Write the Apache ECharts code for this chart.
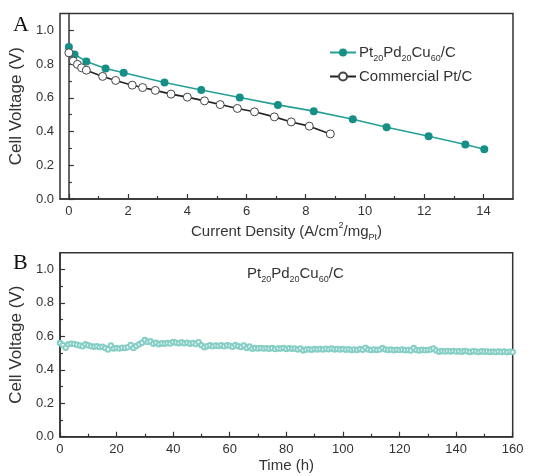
<!DOCTYPE html>
<html>
<head>
<meta charset="utf-8">
<script src="https://cdn.jsdelivr.net/npm/echarts@6/dist/echarts.min.js"></script>
<style>
html, body { margin: 0; padding: 0; background: #fff; }
#chart { width: 541px; height: 476px; }
</style>
</head>
<body>
<div id="chart"></div>
<script>
// polarization curves (panel A)
var alloyJ = [0, 0.19, 0.59, 1.24, 1.85, 3.23, 4.47, 5.77, 7.06, 8.27, 9.59, 10.73, 12.15, 13.39, 14.03];
var alloyV = [0.901, 0.857, 0.816, 0.774, 0.749, 0.691, 0.646, 0.602, 0.558, 0.521, 0.473, 0.426, 0.372, 0.323, 0.295];
var ptcJ = [0, 0.15, 0.29, 0.43, 0.59, 1.14, 1.58, 2.14, 2.49, 2.92, 3.45, 4.00, 4.58, 5.11, 5.69, 6.27, 6.94, 7.51, 8.12, 8.83];
var ptcV = [0.867, 0.818, 0.798, 0.778, 0.764, 0.727, 0.703, 0.675, 0.661, 0.644, 0.622, 0.604, 0.582, 0.560, 0.537, 0.517, 0.487, 0.457, 0.432, 0.386];

// stability test (panel B)
var stabTime = [
  0, 1, 2, 3, 4, 5, 6, 7, 8, 9,
  10, 11, 12, 13, 14, 15, 16, 17, 18, 19,
  20, 21, 22, 23, 24, 25, 26, 27, 28, 29,
  30, 31, 32, 33, 34, 35, 36, 37, 38, 39,
  40, 41, 42, 43, 44, 45, 46, 47, 48, 49,
  50, 51, 52, 53, 54, 55, 56, 57, 58, 59,
  60, 61, 62, 63, 64, 65, 66, 67, 68, 69,
  70, 71, 72, 73, 74, 75, 76, 77, 78, 79,
  80, 81, 82, 83, 84, 85, 86, 87, 88, 89,
  90, 91, 92, 93, 94, 95, 96, 97, 98, 99,
  100, 101, 102, 103, 104, 105, 106, 107, 108, 109,
  110, 111, 112, 113, 114, 115, 116, 117, 118, 119,
  120, 121, 122, 123, 124, 125, 126, 127, 128, 129,
  130, 131, 132, 133, 134, 135, 136, 137, 138, 139,
  140, 141, 142, 143, 144, 145, 146, 147, 148, 149,
  150, 151, 152, 153, 154, 155, 156, 157, 158, 159,
  160
];
var stabVolt = [
  0.560, 0.548, 0.532, 0.552, 0.556, 0.554, 0.550, 0.545, 0.541, 0.552,
  0.546, 0.540, 0.538, 0.541, 0.536, 0.538, 0.530, 0.522, 0.545, 0.528,
  0.530, 0.527, 0.532, 0.531, 0.535, 0.548, 0.530, 0.542, 0.552, 0.562,
  0.578, 0.566, 0.570, 0.556, 0.561, 0.553, 0.558, 0.556, 0.560, 0.557,
  0.566, 0.562, 0.559, 0.564, 0.558, 0.561, 0.556, 0.560, 0.554, 0.565,
  0.546, 0.535, 0.541, 0.547, 0.540, 0.545, 0.542, 0.547, 0.540, 0.546,
  0.543, 0.538, 0.548, 0.541, 0.536, 0.545, 0.530, 0.539, 0.526, 0.530,
  0.528, 0.531, 0.527, 0.529, 0.526, 0.530, 0.524, 0.528, 0.527, 0.531,
  0.525, 0.529, 0.526, 0.528, 0.522, 0.527, 0.516, 0.521, 0.523, 0.520,
  0.524, 0.522, 0.525, 0.521, 0.526, 0.523, 0.527, 0.522, 0.525, 0.521,
  0.524, 0.520, 0.523, 0.519, 0.522, 0.518, 0.524, 0.520, 0.532, 0.521,
  0.518, 0.522, 0.519, 0.521, 0.530, 0.522, 0.518, 0.521, 0.517, 0.520,
  0.518, 0.521, 0.517, 0.519, 0.516, 0.530, 0.519, 0.516, 0.520, 0.517,
  0.519, 0.521, 0.528, 0.516, 0.508, 0.512, 0.509, 0.513, 0.510, 0.512,
  0.509, 0.511, 0.508, 0.512, 0.510, 0.507, 0.511, 0.509, 0.506, 0.511,
  0.508, 0.510, 0.507, 0.509, 0.506, 0.510, 0.507, 0.509, 0.505, 0.508,
  0.506
];

// ticks
var jTicks = [0, 2, 4, 6, 8, 10, 12, 14];
var jMinor = [1, 3, 5, 7, 9, 11, 13];
var timeTicks = [0, 20, 40, 60, 80, 100, 120, 140, 160];
var timeMinor = [10, 30, 50, 70, 90, 110, 130, 150];
var voltTicks = [0, 0.2, 0.4, 0.6, 0.8, 1.0];
var voltMinor = [0.1, 0.3, 0.5, 0.7, 0.9];

function zip(a, b) {
  var out = [];
  for (var i = 0; i < a.length; i++) out.push([a[i], b[i]]);
  return out;
}

var chart = echarts.init(document.getElementById('chart'));

var FONT = 'Liberation Sans, Arial, sans-serif';
var SERIF = 'Liberation Serif, Times New Roman, serif';
var AXIS_COLOR = '#333';

var richText = {
  n: { fontSize: 15, color: '#333', fontFamily: FONT, fontWeight: 'normal', verticalAlign: 'middle' },
  sub: { fontSize: 9, color: '#333', fontFamily: FONT, fontWeight: 'normal', verticalAlign: 'bottom', padding: [12, 0, 0, 0] },
  sup: { fontSize: 9, color: '#333', fontFamily: FONT, fontWeight: 'normal', verticalAlign: 'top' }
};
var alloyName = '{n|Pt}{sub|20}{n|Pd}{sub|20}{n|Cu}{sub|60}{n|/C}';

// main axis with labels + major ticks
function mainX(grid, min, max, ticks, name, gap) {
  return {
    type: 'value', gridIndex: grid, min: min, max: max, position: 'bottom',
    name: name, nameLocation: 'middle', nameGap: gap,
    nameTextStyle: { rich: richText },
    axisLine: { lineStyle: { color: AXIS_COLOR, width: 1.5 } },
    axisTick: { inside: true, length: 5, customValues: ticks, lineStyle: { color: AXIS_COLOR, width: 1.2 } },
    axisLabel: { customValues: ticks, fontSize: 13, color: '#333', fontFamily: FONT, margin: 6 },
    splitLine: { show: false }
  };
}
// second axis on the same grid, only for the minor ticks
function minorX(grid, min, max, ticks) {
  return {
    type: 'value', gridIndex: grid, min: min, max: max, position: 'bottom',
    axisLine: { show: false },
    axisTick: { inside: true, length: 3, customValues: ticks, lineStyle: { color: AXIS_COLOR, width: 1.2 } },
    axisLabel: { show: false },
    splitLine: { show: false }
  };
}
function mainY(grid) {
  return {
    type: 'value', gridIndex: grid, min: 0, max: 1.1, position: 'left',
    name: 'Cell Voltage (V)', nameLocation: 'middle', nameGap: 33,
    nameTextStyle: { fontSize: 17, color: '#333', fontFamily: FONT },
    axisLine: { lineStyle: { color: AXIS_COLOR, width: 1.5 } },
    axisTick: { inside: true, length: 5, customValues: voltTicks, lineStyle: { color: AXIS_COLOR, width: 1.2 } },
    axisLabel: {
      customValues: voltTicks, fontSize: 13, color: '#333', fontFamily: FONT, margin: 6,
      formatter: function (v) { return v.toFixed(1); }
    },
    splitLine: { show: false }
  };
}
function minorY(grid) {
  return {
    type: 'value', gridIndex: grid, min: 0, max: 1.1, position: 'left',
    axisLine: { show: false },
    axisTick: { inside: true, length: 3, customValues: voltMinor, lineStyle: { color: AXIS_COLOR, width: 1.2 } },
    axisLabel: { show: false },
    splitLine: { show: false }
  };
}

var option = {
  animation: false,
  backgroundColor: '#fff',
  title: [
    { text: 'A', left: 8, top: 9, textStyle: { fontFamily: SERIF, fontSize: 22, fontWeight: 'normal', color: '#111' } },
    { text: 'B', left: 8, top: 247, textStyle: { fontFamily: SERIF, fontSize: 22, fontWeight: 'normal', color: '#111' } },
    { text: alloyName, left: 242, top: 258, textStyle: { rich: richText, fontWeight: 'normal' } }
  ],
  legend: {
    data: ['Pt20Pd20Cu60/C', 'Commercial Pt/C'],
    orient: 'vertical',
    left: 324, top: 40,
    itemWidth: 26, itemHeight: 10, itemGap: 6,
    formatter: function (name) {
      return name === 'Pt20Pd20Cu60/C' ? alloyName : '{n|' + name + '}';
    },
    textStyle: { rich: richText, padding: [0, 0, 0, -2] }
  },
  grid: [
    { left: 60, right: 28, top: 13.5, height: 185.5, show: true, borderColor: AXIS_COLOR, borderWidth: 1.5 },
    { left: 58.3, right: 28.3, top: 252.7, height: 184, show: true, borderColor: AXIS_COLOR, borderWidth: 1.5 }
  ],
  xAxis: [
    mainX(0, -0.3, 15, jTicks, '{n|Current Density (A/cm}{sup|2}{n|/mg}{sub|Pt}{n|)}', 22),
    minorX(0, -0.3, 15, jMinor),
    mainX(1, 0, 160, timeTicks, '{n|Time (h)}', 22),
    minorX(1, 0, 160, timeMinor)
  ],
  yAxis: [mainY(0), minorY(0), mainY(1), minorY(1)],
  series: [
    {
      name: 'Pt20Pd20Cu60/C', type: 'line', xAxisIndex: 0, yAxisIndex: 0,
      data: zip(alloyJ, alloyV),
      symbol: 'circle', symbolSize: 8,
      itemStyle: { color: '#168f86' },
      lineStyle: { color: '#26a096', width: 1.6 }
    },
    {
      name: 'Commercial Pt/C', type: 'line', xAxisIndex: 0, yAxisIndex: 0,
      data: zip(ptcJ, ptcV),
      symbol: 'circle', symbolSize: 8,
      itemStyle: { color: '#fff', borderColor: '#444', borderWidth: 1 },
      lineStyle: { color: '#222', width: 1.6 }
    },
    {
      name: 'stability', type: 'line', xAxisIndex: 2, yAxisIndex: 2,
      data: zip(stabTime, stabVolt),
      symbol: 'emptyCircle', symbolSize: 4.5,
      itemStyle: { color: '#86cec6', borderWidth: 1 },
      lineStyle: { color: '#a3dad3', width: 0.8 }
    }
  ]
};

chart.setOption(option);
</script>
</body>
</html>
